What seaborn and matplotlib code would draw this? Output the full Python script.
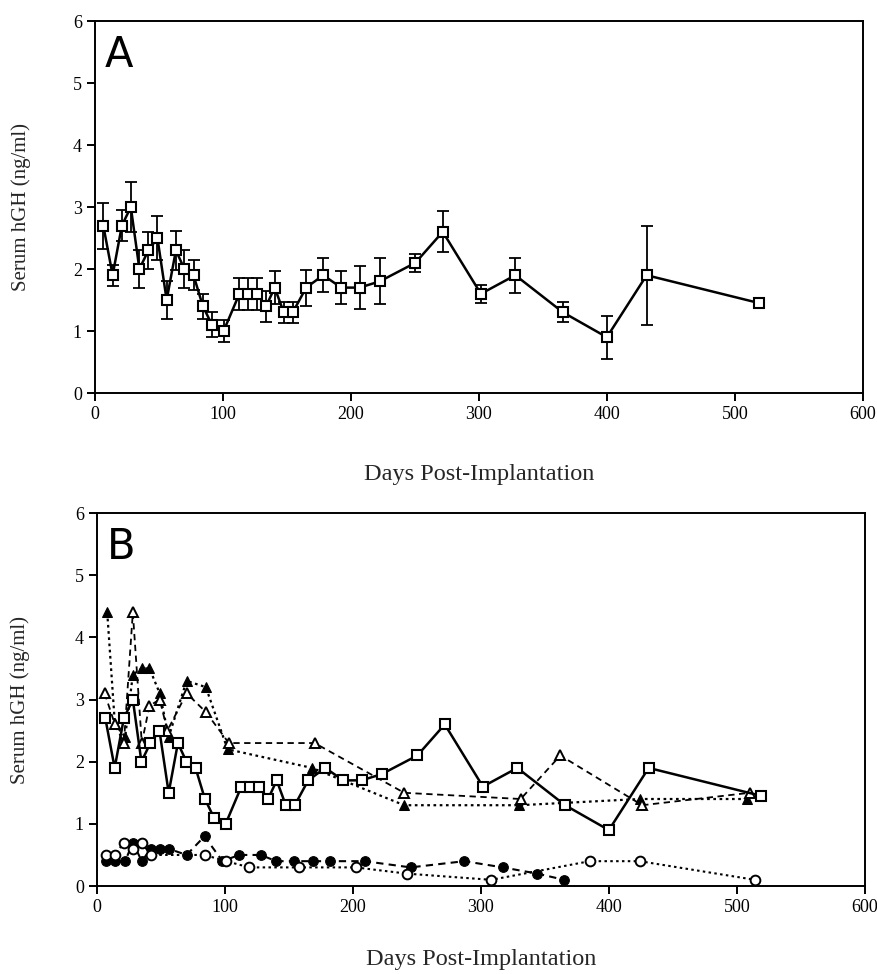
import seaborn as sns
import numpy as np
import matplotlib.pyplot as plt

# mean serum hGH (squares), panel A with error bars, reused in panel B
sq_days = [6.5, 13.8, 21, 28, 34.7, 41.7, 48.8, 56, 63.2, 69.9, 77, 84.3, 91.4, 100.5,
           112.8, 119.6, 126.6, 133.7, 140.4, 147.5, 154.5, 165, 178.3, 192.4, 206.7,
           222.4, 250.3, 271.7, 301.5, 328.4, 365.7, 399.9, 431, 519]
sq_mean = [2.7, 1.9, 2.7, 3.0, 2.0, 2.3, 2.5, 1.5, 2.3, 2.0, 1.9, 1.4, 1.1, 1.0,
           1.6, 1.6, 1.6, 1.4, 1.7, 1.3, 1.3, 1.7, 1.9, 1.7, 1.7,
           1.8, 2.1, 2.6, 1.6, 1.9, 1.3, 0.9, 1.9, 1.45]
sq_err = [0.37, 0.17, 0.25, 0.4, 0.3, 0.3, 0.36, 0.3, 0.32, 0.3, 0.24, 0.2, 0.2, 0.18,
          0.26, 0.26, 0.26, 0.25, 0.27, 0.17, 0.17, 0.29, 0.27, 0.27, 0.35,
          0.37, 0.15, 0.33, 0.15, 0.28, 0.16, 0.35, 0.8, 0]

# panel B individual animals
tri_open_days = [6, 14, 21, 28, 35, 41, 49, 55, 70, 85, 103, 170, 240, 331, 362, 426, 510]
tri_open_val = [3.1, 2.6, 2.3, 4.4, 2.3, 2.9, 3.0, 2.5, 3.1, 2.8, 2.3, 2.3, 1.5, 1.4, 2.1, 1.3, 1.5]

tri_fill_days = [8, 14, 22, 28, 35, 41, 49, 56, 70, 85, 102, 168, 240, 330, 424, 508]
tri_fill_val = [4.4, 2.6, 2.4, 3.4, 3.5, 3.5, 3.1, 2.4, 3.3, 3.2, 2.2, 1.9, 1.3, 1.3, 1.4, 1.4]

circ_open_days = [7, 14, 21, 28, 35, 42, 84, 101, 119, 158, 202, 242, 308, 385, 424, 514]
circ_open_val = [0.5, 0.5, 0.7, 0.6, 0.7, 0.5, 0.5, 0.4, 0.3, 0.3, 0.3, 0.2, 0.1, 0.4, 0.4, 0.1]

circ_fill_days = [7, 14, 22, 28, 35, 42, 49, 56, 70, 84, 98, 111, 128, 140, 154, 169, 182,
                  209, 245, 287, 317, 344, 365]
circ_fill_val = [0.4, 0.4, 0.4, 0.7, 0.4, 0.6, 0.6, 0.6, 0.5, 0.8, 0.4, 0.5, 0.5, 0.4, 0.4,
                 0.4, 0.4, 0.4, 0.3, 0.4, 0.3, 0.2, 0.1]

x_ticks = [0, 100, 200, 300, 400, 500, 600]
y_ticks = [0, 1, 2, 3, 4, 5, 6]

sns.set_style("ticks")
plt.rcParams['font.family'] = ['Liberation Serif', 'DejaVu Serif']

fig = plt.figure(figsize=(8.77, 9.74), dpi=100)
axA = fig.add_axes([0.1083, 0.5965, 0.8757, 0.3819])
axB = fig.add_axes([0.1106, 0.0903, 0.8757, 0.383])

sq_style = dict(color='black', marker='s', markersize=7, markerfacecolor='white',
                markeredgecolor='black', markeredgewidth=1.5, linewidth=1.8, zorder=3)

# panel A
axA.errorbar(sq_days, sq_mean, yerr=sq_err, fmt='none', ecolor='black',
             elinewidth=1.3, capsize=4, capthick=1.3, zorder=2)
sns.lineplot(x=sq_days, y=sq_mean, ax=axA, **sq_style)

# panel B
sns.lineplot(x=tri_fill_days, y=tri_fill_val, ax=axB, color='black', marker='^',
             markersize=7, markerfacecolor='black', markeredgecolor='black',
             linewidth=1.6, linestyle=(0, (1.2, 1.6)), zorder=3)
sns.lineplot(x=tri_open_days, y=tri_open_val, ax=axB, color='black', marker='^',
             markersize=7, markerfacecolor='white', markeredgecolor='black',
             markeredgewidth=1.4, linewidth=1.3, linestyle=(0, (3.5, 2.5)), zorder=3)
sns.lineplot(x=circ_fill_days, y=circ_fill_val, ax=axB, color='black', marker='o',
             markersize=7, markerfacecolor='black', markeredgecolor='black',
             linewidth=1.5, linestyle=(0, (3.5, 2.5)), zorder=3)
sns.lineplot(x=circ_open_days, y=circ_open_val, ax=axB, color='black', marker='o',
             markersize=7, markerfacecolor='white', markeredgecolor='black',
             markeredgewidth=1.4, linewidth=1.5, linestyle=(0, (1.2, 1.6)), zorder=3)
sns.lineplot(x=sq_days, y=sq_mean, ax=axB, **sq_style)

for ax, letter, ylx, xly in [(axA, 'A', -0.083, -0.19), (axB, 'B', -0.087, -0.17)]:
    ax.set_xlim(0, 600)
    ax.set_ylim(0, 6)
    ax.set_xticks(x_ticks)
    ax.set_yticks(y_ticks)
    ax.tick_params(direction='out', length=6, width=1.4, labelsize=13, colors='black')
    for s in ax.spines.values():
        s.set_linewidth(1.4)
        s.set_color('black')
    ax.set_xlabel('Days Post-Implantation', fontsize=17.5)
    ax.set_ylabel('Serum hGH (ng/ml)', fontsize=15)
    ax.yaxis.set_label_coords(ylx, 0.5)
    ax.xaxis.set_label_coords(0.5, xly)
    ax.text(0.013, 0.965, letter, transform=ax.transAxes, ha='left', va='top',
            fontsize=30, family=['DejaVu Sans'], color='black')

fig.savefig('out.png', dpi=100, facecolor='white')
